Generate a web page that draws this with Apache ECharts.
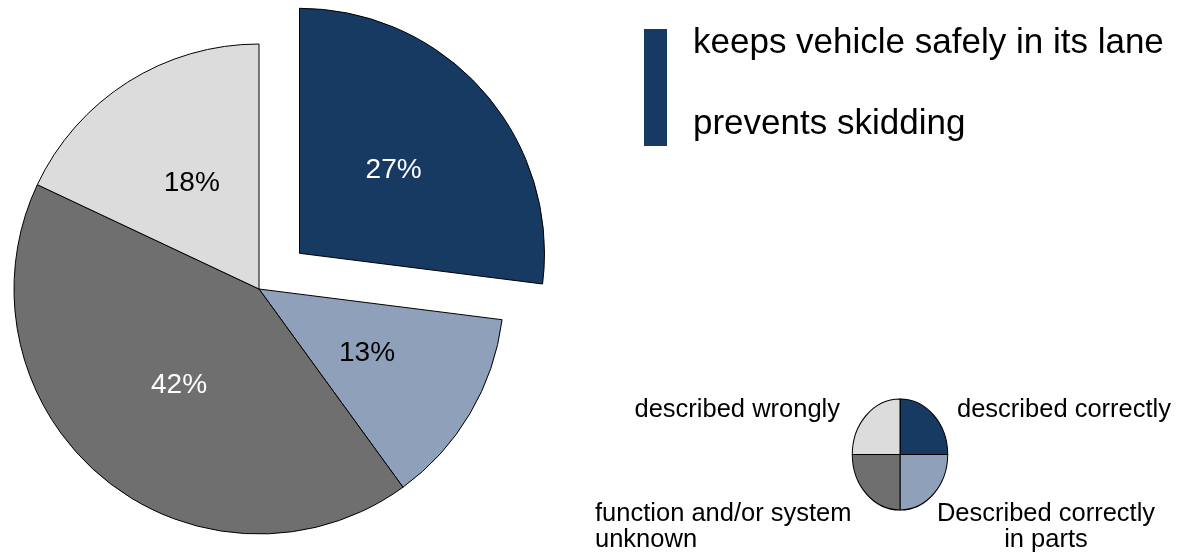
<!DOCTYPE html>
<html>
<head>
<meta charset="utf-8">
<script src="https://cdn.jsdelivr.net/npm/echarts@6/dist/echarts.min.js"></script>
<style>html,body{margin:0;padding:0;background:#fff;}#main{width:1193px;height:560px;}</style>
</head>
<body>
<div id="main"></div>
<script>
// ---- data ----
const categories = ['described correctly', 'Described correctly\nin parts', 'function and/or system\nunknown', 'described wrongly'];
const shares = [27, 13, 42, 18];
const sliceColors = ['#173a62', '#8fa0ba', '#6f6f6f', '#dcdcdc'];
const labelColors = ['#ffffff', '#000000', '#ffffff', '#000000'];
const explodedIndex = 0;
const headerLines = ['keeps vehicle safely in its lane', 'prevents skidding'];
const keyShares = [1, 1, 1, 1];

const FONT = '"Liberation Sans", Arial, sans-serif';
const chart = echarts.init(document.getElementById('main'), null, {renderer: 'canvas'});

const keyCx = 900, keyCy = 454.5, keyRx = 47.7, keyRy = 55.5;

const option = {
  animation: false,
  backgroundColor: '#ffffff',
  series: [
    {
      type: 'pie',
      center: [259, 289],
      radius: [0, 245],
      startAngle: 90,
      clockwise: true,
      selectedMode: 'single',
      selectedOffset: 54,
      silent: true,
      emphasis: {disabled: true},
      label: {
        show: true,
        position: 'inside',
        formatter: '{c}%',
        fontFamily: FONT,
        fontSize: 28
      },
      labelLine: {show: false},
      itemStyle: {borderColor: '#000', borderWidth: 1},
      data: shares.map((v, i) => ({
        value: v,
        name: categories[i],
        selected: i === explodedIndex,
        itemStyle: {color: sliceColors[i]},
        label: {color: labelColors[i]}
      }))
    },
    {
      type: 'custom',
      coordinateSystem: 'none',
      silent: true,
      data: keyShares,
      renderItem: function (params, api) {
        const total = keyShares.reduce((a, b) => a + b, 0);
        let before = 0;
        for (let k = 0; k < params.dataIndex; k++) before += keyShares[k];
        const a0 = -Math.PI / 2 + before / total * Math.PI * 2;
        const a1 = a0 + api.value(0) / total * Math.PI * 2;
        return {
          type: 'sector',
          x: keyCx,
          y: keyCy,
          scaleY: keyRy / keyRx,
          shape: {cx: 0, cy: 0, r0: 0, r: keyRx, startAngle: a0, endAngle: a1, clockwise: true},
          style: {fill: sliceColors[params.dataIndex], stroke: '#000', lineWidth: 1, strokeNoScale: true}
        };
      }
    }
  ],
  graphic: [
    {type: 'rect', shape: {x: 644, y: 29, width: 23, height: 117}, style: {fill: '#173a62'}, silent: true},
    {type: 'text', x: 693, y: 43, style: {text: headerLines[0], font: '35px ' + FONT, fill: '#000', align: 'left', verticalAlign: 'middle'}, silent: true},
    {type: 'text', x: 693, y: 124, style: {text: headerLines[1], font: '35px ' + FONT, fill: '#000', align: 'left', verticalAlign: 'middle'}, silent: true},
    {type: 'text', x: 840, y: 410, style: {text: categories[3], font: '25.5px ' + FONT, fill: '#000', align: 'right', verticalAlign: 'middle'}, silent: true},
    {type: 'text', x: 957, y: 410, style: {text: categories[0], font: '25.5px ' + FONT, fill: '#000', align: 'left', verticalAlign: 'middle'}, silent: true},
    {type: 'text', x: 595, y: 513.5, style: {text: categories[2].split('\n')[0], font: '25.5px ' + FONT, fill: '#000', align: 'left', verticalAlign: 'middle'}, silent: true},
    {type: 'text', x: 595, y: 539.5, style: {text: categories[2].split('\n')[1], font: '25.5px ' + FONT, fill: '#000', align: 'left', verticalAlign: 'middle'}, silent: true},
    {type: 'text', x: 1046, y: 513.5, style: {text: categories[1].split('\n')[0], font: '25.5px ' + FONT, fill: '#000', align: 'center', verticalAlign: 'middle'}, silent: true},
    {type: 'text', x: 1046, y: 539.5, style: {text: categories[1].split('\n')[1], font: '25.5px ' + FONT, fill: '#000', align: 'center', verticalAlign: 'middle'}, silent: true}
  ]
};
chart.setOption(option);
</script>
</body>
</html>
